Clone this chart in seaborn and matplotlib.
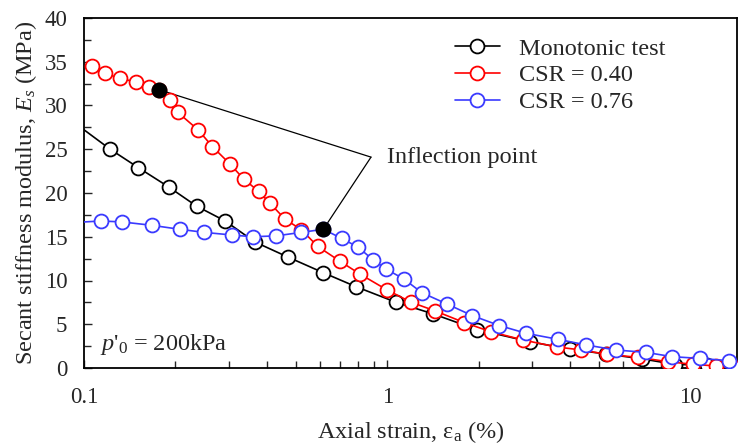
import numpy as np
import pandas as pd
import matplotlib
matplotlib.use("Agg")
import matplotlib.pyplot as plt
import seaborn as sns

# ---- data ----
mono_x = [0.09, 0.122, 0.151, 0.190, 0.235, 0.292, 0.366, 0.472, 0.614, 0.787, 1.07, 1.41,
          1.97, 2.95, 3.99, 5.25, 6.9, 8.9, 11.3]
mono_y = [28.4, 25.0, 22.9, 20.7, 18.5, 16.8, 14.4, 12.65, 10.9, 9.3, 7.5, 6.2,
          4.4, 3.0, 2.15, 1.6, 1.05, 0.4, 0.35]

csr40_x = [0.106, 0.117, 0.131, 0.148, 0.164, 0.177, 0.192, 0.204, 0.238, 0.265, 0.303,
           0.336, 0.376, 0.411, 0.460, 0.521, 0.589, 0.698, 0.815, 1.0, 1.2, 1.43, 1.79,
           2.19, 2.8, 3.62, 4.36, 5.28, 6.7, 8.4, 10.2, 12.1, 14.1]
csr40_y = [34.5, 33.7, 33.1, 32.7, 32.1, 31.8, 30.6, 29.2, 27.2, 25.3, 23.3,
           21.6, 20.2, 18.8, 17.0, 15.8, 13.9, 12.2, 10.7, 8.9, 7.5, 6.55, 5.2,
           4.15, 3.2, 2.4, 2.06, 1.56, 1.22, 0.72, 0.42, 0.23, 0.0]

csr76_x = [0.09, 0.1135, 0.133, 0.168, 0.207, 0.249, 0.307, 0.36, 0.43, 0.52, 0.615, 0.708,
           0.801, 0.894, 0.99, 1.13, 1.30, 1.575, 1.90, 2.34, 2.87, 3.66, 4.53, 5.65,
           7.1, 8.7, 10.7, 13.4]
csr76_y = [16.6, 16.8, 16.7, 16.3, 15.85, 15.5, 15.2, 15.0, 15.1, 15.5, 15.85, 14.8,
           13.8, 12.4, 11.3, 10.2, 8.6, 7.3, 6.0, 4.85, 3.96, 3.27, 2.63, 2.06,
           1.79, 1.29, 1.1, 0.83]

inflect_x = [0.177, 0.615]
inflect_y = [31.8, 15.85]
annot_vertex = (0.883, 24.1)
annot_text_pos = (1.0, 23.4)

series_names = ["Monotonic test", "CSR = 0.40", "CSR = 0.76"]
series_colors = ["#000000", "#FF0000", "#3A3AFF"]

# ---- style ----
sns.set_style("ticks")
plt.rcParams["font.family"] = ["Liberation Serif", "DejaVu Serif"]
plt.rcParams["mathtext.fontset"] = "custom"
plt.rcParams["mathtext.rm"] = "Liberation Serif"
plt.rcParams["mathtext.it"] = "Liberation Serif:italic"
plt.rcParams["mathtext.bf"] = "Liberation Serif:bold"

FS = 17.5
TFS = 16.5

fig = plt.figure(figsize=(7.39, 4.45), dpi=100)
ax = fig.add_axes([84 / 739, 1 - 368 / 445, (737 - 84) / 739, (368 - 18) / 445])

frames = []
for name, xs, ys in zip(series_names, [mono_x, csr40_x, csr76_x], [mono_y, csr40_y, csr76_y]):
    frames.append(pd.DataFrame({"strain": xs, "Es": ys, "series": name}))
df = pd.concat(frames, ignore_index=True)

for i, (name, col) in enumerate(zip(series_names, series_colors)):
    sub = df[df["series"] == name]
    sns.lineplot(data=sub, x="strain", y="Es", ax=ax, sort=False, estimator=None,
                 color=col, lw=1.2, marker="o", markersize=10,
                 markerfacecolor="white", markeredgecolor=col, markeredgewidth=1.3,
                 label=name, zorder=3 + i)

ax.plot(inflect_x, inflect_y, ls="none", marker="o", markersize=10.5,
        color="black", zorder=10)

for px, py in zip(inflect_x, inflect_y):
    ax.annotate("", xy=(px, py), xytext=annot_vertex,
                arrowprops=dict(arrowstyle="-", lw=0.9, color="black",
                                shrinkA=0, shrinkB=0), zorder=2)
ax.text(annot_text_pos[0], annot_text_pos[1], "Inflection point", fontsize=FS,
        ha="left", va="baseline")

ax.text(0.113, 2.06, r"$p$'$_{\mathit{0}}$ = 200kPa", fontsize=FS, ha="left", va="baseline")

ax.set_xscale("log")
ax.set_xlim(0.1, 14.2)
ax.set_ylim(0, 40)
ax.set_yticks(np.arange(0, 41, 5))
ax.set_yticks(np.arange(0, 40.1, 2.5), minor=True)
ax.set_xticks([0.1, 1, 10])
ax.set_xticklabels(["0.1", "1", "10"])
ax.tick_params(axis="both", which="both", direction="in", labelsize=TFS,
               width=1.0, top=False, right=False)
ax.tick_params(axis="both", which="major", length=6)
ax.tick_params(axis="y", which="major", pad=12)
ax.tick_params(axis="x", which="major", pad=14)
ax.tick_params(axis="both", which="minor", length=5)
for s in ax.spines.values():
    s.set_linewidth(1.3)
    s.set_color("black")

ax.set_xlabel(r"Axial strain, ε$_\mathrm{a}$ (%)", fontsize=FS, labelpad=8)
ax.set_ylabel(r"Secant stiffness modulus, $E_s$ (MPa)", fontsize=FS, labelpad=4)

leg = ax.legend(loc="upper left", bbox_to_anchor=(0.568, 0.944), frameon=False,
                fontsize=FS, handlelength=1.85, labelspacing=0.2, handletextpad=0.8,
                borderpad=0, borderaxespad=0)

fig.savefig("out.png", dpi=100)
